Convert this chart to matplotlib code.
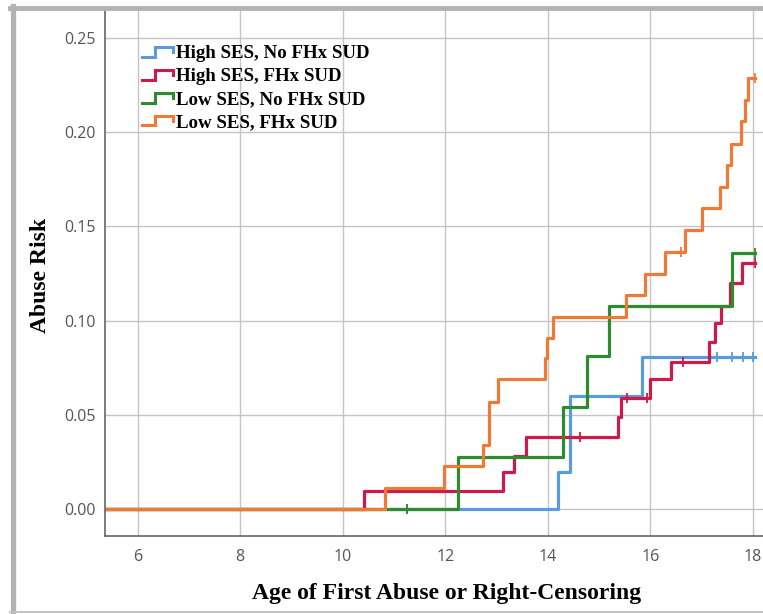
import matplotlib
matplotlib.use("Agg")
import matplotlib.pyplot as plt
from matplotlib.legend_handler import HandlerBase
from matplotlib.lines import Line2D

# Kaplan-Meier style cumulative abuse risk
labels = ["High SES, No FHx SUD", "High SES, FHx SUD",
          "Low SES, No FHx SUD", "Low SES, FHx SUD"]
colors = ["#5a9be0", "#cc1a4a", "#2e8b2e", "#ee7a35"]

# step change ages and the risk level after each step
hi_nofhx_x = [5.36, 14.20, 14.43, 15.83, 18.05]
hi_nofhx_y = [0.0, 0.0196, 0.060, 0.0807, 0.0807]
hi_fhx_x = [5.36, 10.41, 13.12, 13.34, 13.57, 15.37, 15.43, 15.99, 16.40,
            17.14, 17.26, 17.38, 17.55, 17.79, 18.05]
hi_fhx_y = [0.0, 0.0095, 0.0196, 0.028, 0.0385, 0.049, 0.059, 0.0688, 0.078,
            0.0886, 0.0987, 0.108, 0.120, 0.1306, 0.1306]
lo_nofhx_x = [5.36, 12.25, 14.30, 14.76, 15.20, 17.60, 18.05]
lo_nofhx_y = [0.0, 0.0276, 0.054, 0.0815, 0.108, 0.136, 0.136]
lo_fhx_x = [5.36, 10.82, 11.97, 12.73, 12.85, 13.02, 13.94, 13.98, 14.10,
            15.53, 15.90, 16.28, 16.67, 17.01, 17.36, 17.49, 17.57, 17.77,
            17.84, 17.90, 18.05]
lo_fhx_y = [0.0, 0.011, 0.0228, 0.034, 0.057, 0.069, 0.080, 0.091, 0.102,
            0.1136, 0.125, 0.1364, 0.148, 0.160, 0.171, 0.1826, 0.194, 0.206,
            0.217, 0.229, 0.229]

# censored observations (age, risk)
cens = [
    ([11.25, 17.30, 17.60, 17.80, 18.00], [0.0, 0.0807, 0.0807, 0.0807, 0.0807]),
    ([14.62, 15.54, 15.93, 16.63, 18.05], [0.0385, 0.059, 0.059, 0.078, 0.1306]),
    ([11.25, 18.05], [0.0, 0.136]),
    ([16.60, 18.05], [0.1364, 0.229]),
]

series = [(hi_nofhx_x, hi_nofhx_y), (hi_fhx_x, hi_fhx_y),
          (lo_nofhx_x, lo_nofhx_y), (lo_fhx_x, lo_fhx_y)]


class StepHandler(HandlerBase):
    def create_artists(self, legend, orig_handle, xdescent, ydescent,
                       width, height, fontsize, trans):
        x0 = -xdescent
        y0 = -ydescent
        xs = [x0, x0 + 0.4 * width, x0 + 0.4 * width, x0 + width, x0 + width]
        ys = [y0 + 0.1 * height, y0 + 0.1 * height, y0 + 0.85 * height,
              y0 + 0.85 * height, y0 + 0.45 * height]
        ln = Line2D(xs, ys, color=orig_handle.get_color(), lw=2.2,
                    solid_joinstyle="miter", transform=trans)
        return [ln]


fig = plt.figure(figsize=(7.63, 6.14), dpi=100)
ax = fig.add_axes([0.1376, 0.127, 0.8624, 0.855])

handles = []
for (xs, ys), c, lab, (cx, cy) in zip(series, colors, labels, cens):
    h, = ax.step(xs, ys, where="post", color=c, lw=2.3, label=lab)
    ax.plot(cx, cy, ls="none", marker="|", ms=7, mew=1.3, color=c)
    handles.append(h)

ax.set_xlim(5.36, 18.2)
ax.set_ylim(-0.0143, 0.2643)
ax.set_xticks([6, 8, 10, 12, 14, 16, 18])
ax.set_yticks([0.0, 0.05, 0.10, 0.15, 0.20, 0.25])
ax.set_yticklabels(["0.00", "0.05", "0.10", "0.15", "0.20", "0.25"])
ax.grid(True, color="#c4c4c4", lw=1.0)
ax.set_axisbelow(True)
ax.tick_params(length=0, labelsize=11.5, labelcolor="#555555")
ax.tick_params(axis="x", pad=9)
ax.tick_params(axis="y", pad=7)
for lab in ax.get_xticklabels() + ax.get_yticklabels():
    lab.set_family("Open Sans")
for s in ["top", "right"]:
    ax.spines[s].set_visible(False)
for s in ["left", "bottom"]:
    ax.spines[s].set_color("#666666")
    ax.spines[s].set_linewidth(1.2)

fig.text(0.585, 0.034, "Age of First Abuse or Right-Censoring",
         family="Liberation Serif", fontweight="bold", fontsize=17,
         ha="center", va="center")
fig.text(0.053, 0.552, "Abuse Risk", family="Liberation Serif",
         fontweight="bold", fontsize=17, rotation=90, ha="center", va="center")

ax.legend(handles=handles, handler_map={Line2D: StepHandler()},
          loc="upper left", bbox_to_anchor=(0.045, 0.95), frameon=False,
          prop={"family": "Liberation Serif", "size": 13.6, "weight": "bold"},
          handlelength=1.65, handletextpad=0.15, labelspacing=0.3,
          borderaxespad=0.0)

# grey outer frame of the exported picture
fig.add_artist(Line2D([0.013, 1.0], [0.987, 0.987], color="#b3b3b3", lw=3.5,
                      transform=fig.transFigure))
fig.add_artist(Line2D([0.0164, 0.0164], [0.0, 0.99], color="#b3b3b3", lw=3.8,
                      transform=fig.transFigure))
fig.add_artist(Line2D([0.013, 1.0], [0.003, 0.003], color="#c4c4c4", lw=1.5,
                      transform=fig.transFigure))

fig.savefig("out.png", dpi=100)
